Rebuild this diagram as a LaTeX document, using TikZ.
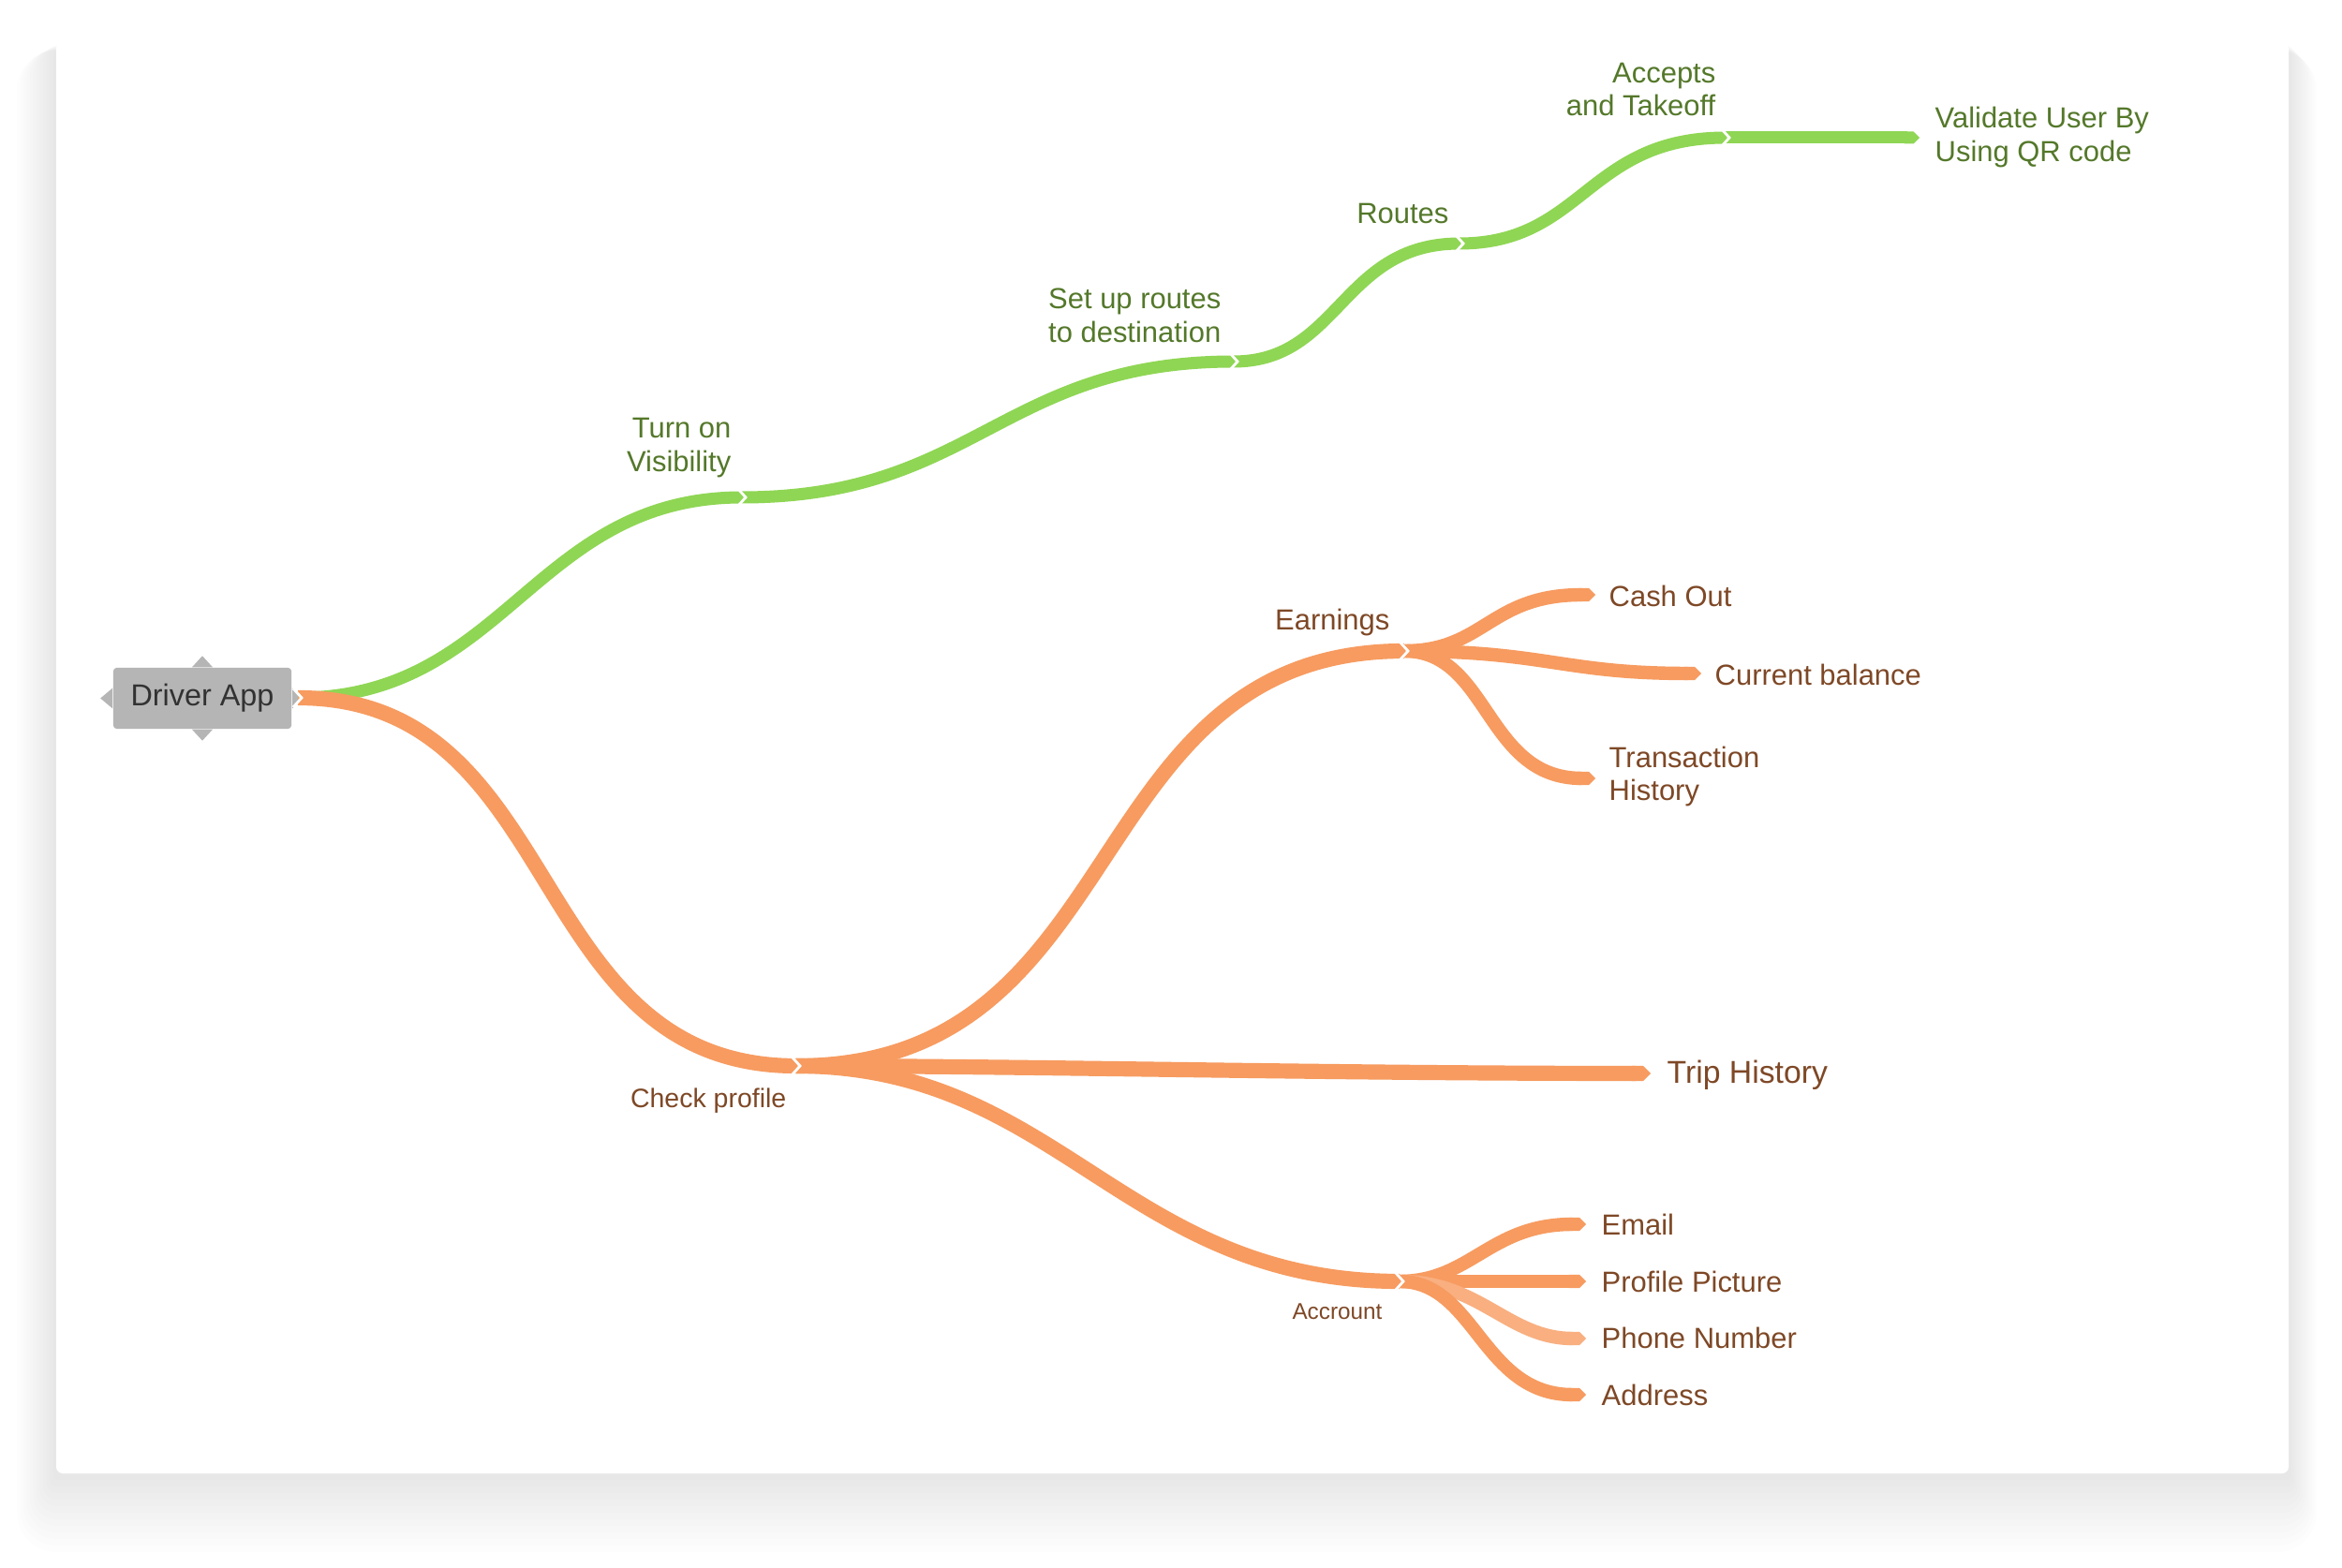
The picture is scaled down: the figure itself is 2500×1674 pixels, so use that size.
\documentclass[tikz,border=0pt]{standalone}
\usepackage{fontspec}
\setmainfont{Liberation Sans}
\usetikzlibrary{arrows.meta}
\definecolor{grn}{RGB}{143,214,84}
\definecolor{grntxt}{RGB}{84,120,42}
\definecolor{org}{RGB}{247,155,96}
\definecolor{orgtxt}{RGB}{126,72,38}
\definecolor{boxgray}{RGB}{181,181,181}
\definecolor{boxtxt}{RGB}{50,50,50}
\newcommand\chevmark[1]{\draw[chev] ([shift={(-5,-10)}]#1) -- ([shift={(4,0)}]#1) -- ([shift={(-5,10)}]#1);}
\begin{document}
\begin{tikzpicture}[x=0.01cm,y=-0.01cm,
  gline/.style={draw=grn, line width=3.7pt, line cap=butt},
  oline/.style={draw=org, line width=4.6pt, line cap=butt},
  osub/.style={draw=org, line width=4.1pt, line cap=butt},
  tipend/.style={-{Triangle Cap[]}},
  chev/.style={draw=white, line width=0.8pt},
  gtxt/.style={text=grntxt, inner sep=0pt, yshift=-0.035cm, font=\fontsize{8.8}{10.2}\selectfont},
  otxt/.style={text=orgtxt, inner sep=0pt, yshift=-0.03cm, font=\fontsize{8.8}{10.2}\selectfont}]
\useasboundingbox (0,0) rectangle (2500,1674);
% card shadow
\foreach \i in {1,...,12}{
  \fill[black, opacity=0.007, rounded corners={\i*1pt}] (60-3.5*\i,48+0.5*\i) rectangle (2443+2.5*\i,1573+7*\i);
}
\fill[white, rounded corners=2pt] (60,45) rectangle (2443,1573);

% root
\node[fill=boxgray, rounded corners=1pt, minimum width=1.9cm, minimum height=0.65cm, inner sep=0pt,
      text=boxtxt, font=\fontsize{9.2}{11}\selectfont] (root) at (216,745.5) {\raisebox{-0.25ex}{Driver App}};
\fill[boxgray] ([xshift=-0.11cm]root.north) -- ([yshift=0.12cm]root.north) -- ([xshift=0.11cm]root.north) -- cycle;
\fill[boxgray] ([xshift=-0.11cm]root.south) -- ([yshift=-0.12cm]root.south) -- ([xshift=0.11cm]root.south) -- cycle;
\fill[boxgray] ([yshift=0.11cm]root.west) -- ([xshift=-0.13cm]root.west) -- ([yshift=-0.11cm]root.west) -- cycle;
\fill[boxgray] ([yshift=0.11cm]root.east) -- ([xshift=0.12cm]root.east) -- ([yshift=-0.11cm]root.east) -- cycle;

% junction coordinates
\coordinate (rs) at (318,745);
\coordinate (jvis) at (792,531);
\coordinate (jset) at (1317,386);
\coordinate (jrou) at (1558,260);
\coordinate (jacc) at (1842,147);
\coordinate (eval) at (2049,147);
\coordinate (jchk) at (850,1138);
\coordinate (jear) at (1499,695);
\coordinate (etrip) at (1762,1146);
\coordinate (jacn) at (1494,1368);
\coordinate (ecash) at (1703,635);
\coordinate (ecur) at (1816,719);
\coordinate (etra) at (1703,831);
\coordinate (email) at (1693,1307);
\coordinate (epic) at (1693,1368);
\coordinate (ephone) at (1693,1429);
\coordinate (eaddr) at (1693,1489);

% green branch
\draw[gline] (rs) .. controls (540,745) and (570,531) .. (jvis);
\draw[gline] (jvis) .. controls (1040,531) and (1070,386) .. (jset);
\draw[gline] (jset) .. controls (1430,386) and (1432,260) .. (jrou);
\draw[gline] (jrou) .. controls (1690,260) and (1694,147) .. (jacc);
\draw[gline, tipend] (jacc) -- (eval);

% orange branch
\draw[oline] (rs) .. controls (606,745) and (558,1138) .. (jchk);
\draw[oline] (jchk) .. controls (1212,1138) and (1148,695) .. (jear);
\draw[oline, tipend] (jchk) .. controls (1100,1138) and (1400,1146) .. (etrip);
\draw[oline] (jchk) .. controls (1130,1138) and (1200,1368) .. (jacn);
\draw[osub, tipend] (jear) .. controls (1585,695) and (1590,635) .. (ecash);
\draw[osub, tipend] (jear) .. controls (1650,695) and (1668,719) .. (ecur);
\draw[osub, tipend] (jear) .. controls (1590,695) and (1585,831) .. (etra);
\draw[osub, tipend] (jacn) .. controls (1570,1368) and (1590,1307) .. (email);
\draw[osub, tipend] (jacn) -- (epic);
\draw[osub, draw=org!80!white, tipend] (jacn) .. controls (1580,1368) and (1610,1429) .. (ephone);
\draw[osub, tipend] (jacn) .. controls (1575,1368) and (1582,1489) .. (eaddr);

% junction chevrons
\chevmark{rs}
\chevmark{jvis}
\chevmark{jset}
\chevmark{jrou}
\chevmark{jacc}
\chevmark{jchk}
\chevmark{jear}
\chevmark{jacn}

% green labels
\node[gtxt, anchor=east, align=right] (lvis) at (781,475) {Turn on\\Visibility};
\node[gtxt, anchor=east, align=right] (lset) at (1304,333) {Set up routes\\to destination};
\node[gtxt, anchor=east, align=right] (lrou) at (1547,225) {Routes};
\node[gtxt, anchor=east, align=right] (lacc) at (1832,92) {Accepts\\and Takeoff};
\node[gtxt, anchor=west, align=left] (lval) at (2065,143) {Validate User By\\Using QR code};

% orange labels
\node[otxt, anchor=east, font=\fontsize{8.1}{10}\selectfont] (lchk) at (840,1172) {Check profile};
\node[otxt, anchor=east] (lear) at (1484,662) {Earnings};
\node[otxt, anchor=west, font=\fontsize{9.6}{11}\selectfont] (ltrip) at (1779,1145) {Trip History};
\node[otxt, anchor=east, font=\fontsize{6.9}{8}\selectfont] (lacn) at (1476,1397) {Accrount};
\node[otxt, anchor=west] (lcash) at (1717,633) {Cash Out};
\node[otxt, anchor=west] (lcur) at (1830,717) {Current balance};
\node[otxt, anchor=west, align=left] (ltra) at (1717,826) {Transaction\\History};
\node[otxt, anchor=west] (lmail) at (1709,1304) {Email};
\node[otxt, anchor=west] (lpic) at (1709,1365) {Profile Picture};
\node[otxt, anchor=west] (lpho) at (1709,1425) {Phone Number};
\node[otxt, anchor=west] (ladd) at (1709,1486) {Address};
\end{tikzpicture}
\end{document}
